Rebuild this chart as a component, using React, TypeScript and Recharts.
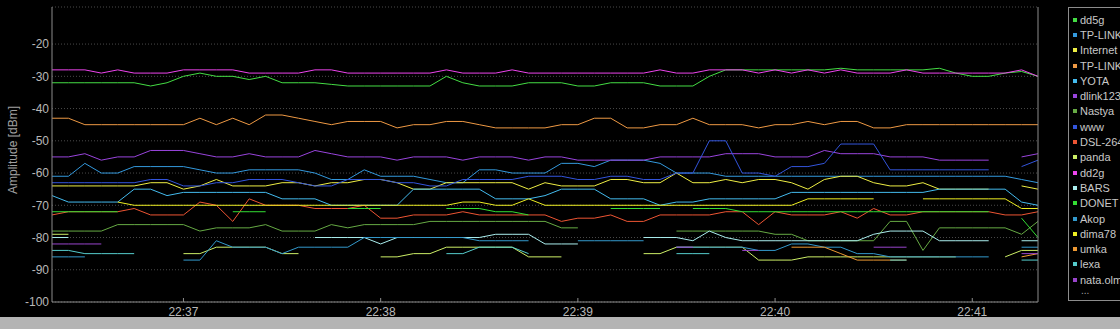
import React from "react";
import { LineChart, Line, XAxis, YAxis, CartesianGrid } from "recharts";

// seconds from 22:36:20, one sample every 5 s
const seconds = [
  0, 5, 10, 15, 20, 25, 30, 35, 40, 45, 50, 55, 60, 65, 70, 75, 80, 85, 90, 95,
  100, 105, 110, 115, 120, 125, 130, 135, 140, 145, 150, 155, 160, 165, 170, 175, 180, 185, 190, 195,
  200, 205, 210, 215, 220, 225, 230, 235, 240, 245, 250, 255, 260, 265, 270, 275, 280, 285, 290, 295,
  300,
];

const timeTicks = [40, 100, 160, 220, 280];
const timeLabels = ["22:37", "22:38", "22:39", "22:40", "22:41"];
const ampTicks = [-100, -90, -80, -70, -60, -50, -40, -30, -20];

const dd5g = [
  -32, -32, -32, -32, -32, -32, -33, -32, -30, -29,
  -30, -30, -31, -30, -32, -32, -32, -32.5, -33, -33,
  -33, -33, -33, -33, -30, -32, -33, -33, -33, -32,
  -32, -32, -33, -33, -32, -32, -32, -33, -33, -33,
  -30, -28, -28, -28, -28, -28, -28, -28, -27.5, -28,
  -28, -28, -28, -28, -27.5, -29, -30, -30, -29, -28.5,
  -30,
];
const tplinkBlue = [
  -61, -61, -57, -60, -60, -58, -58, -58, -58, -59,
  -60, -60, -59, -59, -59, -59, -60, -62, -62, -59,
  -61, -61, -61, -62, -63, -63, -59, -59, -60, -60,
  -60, -57, -57, -58, -56, -56, -56, -57, -60, -60,
  -60, -61, -61, -61, -61, -61, -61, -61, -61, -61,
  -61, -61, -61, -61, -61, -61, -61, -61, -61, -62,
  -63,
];
const internet = [
  -64, -64, -64, -64, -64, -64, -63, -63, -65, -64,
  -62, -64, -64, -64, -63, -63, -64, -63, -63, -62,
  -62, -63, -65, -65, -63, -63, -63, -63, -63, -65,
  -63, -64, -64, -64, -62, -62, -63, -63, -60, -63,
  -63, -62, -63, -62, -62, -63, -65, -62, -61, -61,
  -63, -64, -64, -63, -65, -65, -65, -65, null, -64,
  -65,
];
const tplinkOrange = [
  -43, -43, -45, -45, -45, -45, -45, -45, -45, -43,
  -45, -43, -45, -42, -42, -43, -44, -45, -44, -44,
  -44, -46, -45, -45, -44, -44, -45, -46, -46, -46,
  -46, -45, -45, -43, -43, -46, -46, -45, -45, -43,
  -45, -45, -45, -46, -45, -45, -44, -45, -44, -44,
  -46, -46, -45, -45, -45, -45, -45, -45, -45, -45,
  -45,
];
const yota = [
  -67, -69, -69, -69, -69, -65, -65, -67, -66, -66,
  -66, -66, -66, -66, -68, -68, -68, -70, -70, -70,
  -70, -70, -65, -65, -65, -65, -65, -68, -68, -68,
  -67, -65, -65, -65, -68, -68, -68, -70, -69, -69,
  -68, -68, -68, -68, -68, -66, -66, -66, -66, -66,
  -66, -66, -66, -66, -65, -65, -65, -65, -65, -69,
  -70,
];
const dlink123 = [
  -55, -55, -54, -56, -55, -55, -53, -53, -53, -54,
  -55, -55, -54, -55, -55, -55, -53, -54, -55, -55,
  -55, -56, -55, -55, -55, -56, -55, -55, -55, -56,
  -55, -55, -56, -56, -56, -56, -56, -55, -55, -55,
  -55, -54, -54, -54, -55, -55, -55, -53, -54, -54,
  -54, -55, -55, -55, -56, -56, -56, -56, null, -55,
  -54,
];
const nastya = [
  -78, -78, -78, -78, -76, -76, -76, -76, -76, -78,
  -77, -77, -77, -76, -78, -78, -78, -76, -77, -76,
  -76, -76, -76, -75, -75, -75, -75, -75, -75, -75,
  -75, -77, -77, null, null, null, null, null, -78, -78,
  -78, -78, -78, -78, -79, -79, -81, -81, -81, -81,
  -81, -75, -75, -84, -77, -77, -77, -77, -77, -79,
  -75,
];
const www = [
  -63, -63, -63, -63, -63, -63, -62, -62, -64, -64,
  -63, -63, -62, -62, -62, -63, -64, -64, -62, -62,
  -62, -63, -63, -64, -64, -62, -62, -62, -62, -61,
  -61, -61, -62, -62, -61, -61, -62, -62, -60, -60,
  -50, -50, -60, -60, -61, -58, -58, -57, -51, -51,
  -51, -59, -59, -59, -59, -59, -59, -59, null, -58,
  -56,
];
const dsl264 = [
  -73, -72, -72, -72, -72, -71, -73, -73, -73, -69,
  -70, -75, -68, -70, -70, -70, -71, -71, -71, -70,
  -74, -74, -73, -73, -73, -72, -73, -73, -73, -73,
  -73, -75, -74, -74, -73, -75, -75, -73, -73, -73,
  -73, -72, -72, -76, -72, -73, -73, -73, -72, -74,
  -71, -73, -73, -72, -72, -72, -72, -72, -73, -73,
  -72,
];
const panda = [
  -79, -79, null, null, null, null, null, null, -85, -85,
  -83, -83, -83, -83, -85, -85, null, null, null, null,
  -86, -86, -85, -85, -83, -83, -83, -83, -83, -86,
  -86, -86, null, null, null, null, -85, -85, -83, -83,
  -83, -83, -83, -87, -87, -87, -86, -86, -86, -86,
  -86, -86, -86, -86, -86, -86, null, null, -86, -84,
  -84,
];
const dd2g = [
  -28, -28, -28, -29, -28, -29, -29, -29, -28, -28,
  -28, -28, -29, -29, -29, -29, -28, -28, -29, -29,
  -29, -29, -29, -29, -28, -29, -29, -29, -28, -29,
  -29, -29, -29, -29, -29, -29, -29, -28, -29, -29,
  -28, -28, -28, -29, -28, -29, -28, -29, -28, -29,
  -29, -29, -28, -29, -29, -29, -29, -29, -29, -28,
  -30,
];
const bars = [
  -80, -80, null, null, null, null, null, null, null, null,
  null, null, null, null, null, null, -80, -80, -80, -80,
  -82, -80, -80, -80, -80, -80, -80, -79, -79, -79,
  -82, -82, -82, null, null, null, -80, -80, -80, -81,
  -78, -80, -81, -81, -81, -81, -81, -81, -81, -81,
  -79, -78, -78, -78, -81, -81, -81, -81, null, -81,
  -81,
];
const donet = [
  -72, -72, -72, -72, -72, null, null, null, null, null,
  null, -72, -72, -72, null, null, null, null, -71, -71,
  -71, null, null, null, -71, -71, -71, -72, -72, -73,
  null, null, null, null, -71, -71, -71, -71, null, -71,
  -71, -71, -72, -72, -72, -72, -72, -72, -72, -72,
  -72, -72, -72, -72, -72, -72, -72, -72, null, -74,
  -80,
];
const akop = [
  -86, -86, -86, null, null, null, null, null, -87, -87,
  -81, -83, -83, -83, -85, -83, -83, -83, -83, -80,
  -80, -80, -80, -80, -80, -80, -81, -81, -81, -81,
  null, null, -81, -81, -81, -81, -81, null, -83, -83,
  -83, -83, -83, -84, -84, -82, -82, -83, -83, -85,
  -85, -86, -86, -86, -86, -86, -86, -86, null, -83,
  -83,
];
const dima78 = [
  null, null, null, null, -69, -70, -70, -70, -70, -70,
  -70, -70, -70, -70, -70, -70, -70, -70, -70, -70,
  -70, -70, -70, -70, -70, -69, -69, -70, -70, -68,
  -70, -70, -70, -70, -70, -70, -70, -70, -70, -70,
  -70, -70, -70, -70, -70, -70, -68, -68, -68, -68,
  -68, null, null, -68, -68, -68, -68, -68, -68, -71,
  -71,
];
const umka = [
  null, null, null, null, null, null, null, null, null, null,
  null, null, null, null, null, null, null, null, null, null,
  null, null, null, null, null, null, null, null, null, null,
  null, null, null, null, null, null, null, null, null, null,
  null, null, null, null, null, -83, -83, -83, -85, -87,
  -87, -87, -87, null, null, null, null, null, null, -86,
  -85,
];
const lexa = [
  -84, -84, -85, -85, -85, -85, null, null, null, null,
  null, null, null, null, null, null, null, null, null, null,
  null, null, null, null, -85, -85, -83, -83, -83, -85,
  null, null, null, null, null, null, null, null, -85, -85,
  -85, null, null, null, null, null, null, null, null, null,
  null, -87, -87, null, null, null, null, null, null, -87,
  -87,
];
const nataOlm = [
  -82, -82, -82, -82, null, null, null, null, null, null,
  null, null, null, null, null, null, null, null, null, null,
  null, null, null, null, null, null, null, null, null, null,
  null, null, null, null, null, null, null, null, -83, -83,
  null, null, -84, -84, null, null, null, null, null, null,
  -83, -83, -83, null, null, null, null, null, null, -85,
  -85,
];

const series = [
  { key: "dd5g", name: "dd5g", color: "#44dd44", values: dd5g },
  { key: "tplink1", name: "TP-LINK", color: "#3399dd", values: tplinkBlue },
  { key: "internet", name: "Internet", color: "#eeee44", values: internet },
  { key: "tplink2", name: "TP-LINK", color: "#ee9944", values: tplinkOrange },
  { key: "yota", name: "YOTA", color: "#44bbee", values: yota },
  { key: "dlink123", name: "dlink123", color: "#9944dd", values: dlink123 },
  { key: "nastya", name: "Nastya", color: "#66aa44", values: nastya },
  { key: "www", name: "www", color: "#3355dd", values: www },
  { key: "dsl", name: "DSL-264", color: "#ee5533", values: dsl264 },
  { key: "panda", name: "panda", color: "#ccee66", values: panda },
  { key: "dd2g", name: "dd2g", color: "#ee44ee", values: dd2g },
  { key: "bars", name: "BARS", color: "#aaeeee", values: bars },
  { key: "donet", name: "DONET", color: "#33dd33", values: donet },
  { key: "akop", name: "Akop", color: "#3399cc", values: akop },
  { key: "dima78", name: "dima78", color: "#eeee22", values: dima78 },
  { key: "umka", name: "umka", color: "#ee9933", values: umka },
  { key: "lexa", name: "lexa", color: "#55cccc", values: lexa },
  { key: "nata", name: "nata.olm", color: "#9944cc", values: nataOlm },
];

const data = seconds.map((t, i) => {
  const row: Record<string, number | null> = { t };
  series.forEach((s) => {
    row[s.key] = s.values[i];
  });
  return row;
});

const axisColor = "#8c8c8c";
const textColor = "#b8b8b8";

const TimeTick = (props: any) => {
  const { x, y, payload } = props;
  const idx = timeTicks.indexOf(payload.value);
  return (
    <g>
      <line x1={x} x2={x} y1={y - 9} y2={y - 5} stroke={axisColor} />
      <text
        x={x}
        y={y}
        dy="0.71em"
        textAnchor="middle"
        fill={textColor}
        fontSize={12}
        fontFamily="'Liberation Sans Narrow', 'Liberation Sans', sans-serif"
      >
        {idx >= 0 ? timeLabels[idx] : ""}
      </text>
    </g>
  );
};

export default function App() {
  return (
    <div
      style={{
        position: "fixed",
        left: 0,
        top: 0,
        width: 1120,
        height: 329,
        background: "#000",
        overflow: "hidden",
        fontFamily: "'Liberation Sans', Arial, sans-serif",
      }}
    >
      <LineChart
        width={1120}
        height={329}
        data={data}
        margin={{ top: 7, right: 0, bottom: 0, left: 0 }}
      >
        <CartesianGrid
          vertical={false}
          stroke="#4a4a4a"
          strokeDasharray="1 2"
        />
        <XAxis
          dataKey="t"
          type="number"
          domain={[0, 300]}
          ticks={timeTicks}
          height={27}
          tickSize={0}
          tickMargin={5}
          tickLine={false}
          axisLine={{ stroke: axisColor }}
          tick={<TimeTick />}
        />
        <XAxis
          xAxisId="top"
          orientation="top"
          dataKey="t"
          type="number"
          domain={[0, 300]}
          height={0}
          tick={false}
          tickLine={false}
          axisLine={{ stroke: axisColor }}
        />
        <YAxis
          type="number"
          domain={[-100, -8.5]}
          ticks={ampTicks}
          width={52}
          tickSize={0}
          tickMargin={3}
          axisLine={{ stroke: axisColor }}
          tick={{ fill: textColor, fontSize: 12 }}
        />
        <YAxis
          yAxisId="right"
          orientation="right"
          type="number"
          domain={[-100, -8.5]}
          ticks={ampTicks}
          width={82}
          tickSize={5}
          tickMargin={1}
          axisLine={{ stroke: axisColor }}
          tickLine={{ stroke: axisColor }}
          tick={{ fill: textColor, fontSize: 12, textAnchor: "start" }}
        />
        {series.map((s) => (
          <Line
            key={s.key}
            dataKey={s.key}
            name={s.name}
            type="linear"
            stroke={s.color}
            strokeWidth={1}
            dot={false}
            activeDot={false}
            isAnimationActive={false}
          />
        ))}
      </LineChart>

      <div
        style={{
          position: "absolute",
          left: 0,
          top: 100,
          width: 26,
          height: 100,
          display: "flex",
          alignItems: "center",
          justifyContent: "center",
        }}
      >
        <div
          style={{
            transform: "rotate(-90deg)",
            whiteSpace: "nowrap",
            color: "#a0a0a0",
            fontSize: 12,
          }}
        >
          Amplitude [dBm]
        </div>
      </div>

      <div
        style={{
          position: "absolute",
          left: 1068,
          top: 7,
          width: 70,
          height: 294,
          border: `1px solid ${axisColor}`,
          boxSizing: "border-box",
          paddingTop: 4,
          paddingLeft: 4,
        }}
      >
        {series.map((s) => (
          <div
            key={s.key}
            style={{
              height: 15.3,
              display: "flex",
              alignItems: "center",
              whiteSpace: "nowrap",
              color: "#c8c8c8",
              fontSize: 11,
            }}
          >
            <span
              style={{
                display: "inline-block",
                width: 4,
                height: 4,
                background: s.color,
                marginRight: 3,
              }}
            />
            {s.name}
          </div>
        ))}
        <div style={{ color: "#a0a0a0", fontSize: 10, paddingLeft: 8, lineHeight: "8px" }}>...</div>
      </div>

      <div
        style={{
          position: "absolute",
          left: 0,
          top: 317,
          width: 1120,
          height: 12,
          background: "#b4b4b4",
        }}
      />
    </div>
  );
}
